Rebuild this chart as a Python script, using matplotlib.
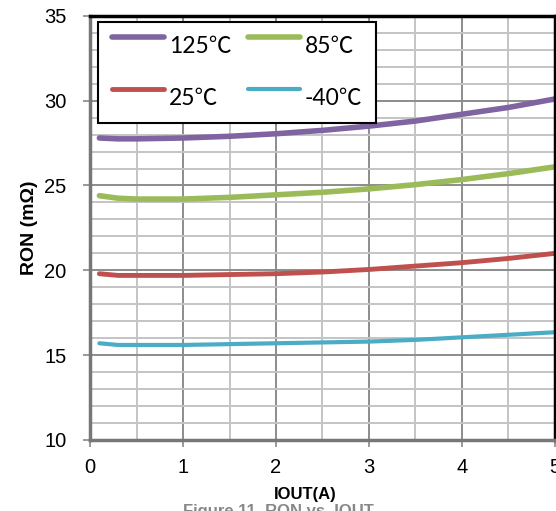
import matplotlib.pyplot as plt
from matplotlib.ticker import MultipleLocator
from matplotlib.legend_handler import HandlerLine2D
from matplotlib.transforms import Affine2D

# output current (A)
iout = [0.1, 0.3, 0.5, 1.0, 1.5, 2.0, 2.5, 3.0, 3.5, 4.0, 4.5, 5.0]

# on-resistance (mOhm) per junction temperature
ron_125 = [27.8, 27.75, 27.75, 27.8, 27.9, 28.05, 28.25, 28.5, 28.8, 29.2, 29.6, 30.1]
ron_85 = [24.4, 24.25, 24.2, 24.2, 24.3, 24.45, 24.6, 24.8, 25.05, 25.35, 25.7, 26.1]
ron_25 = [19.8, 19.7, 19.7, 19.7, 19.75, 19.8, 19.9, 20.05, 20.25, 20.45, 20.7, 21.0]
ron_m40 = [15.7, 15.6, 15.6, 15.6, 15.65, 15.7, 15.75, 15.8, 15.9, 16.05, 16.2, 16.35]

labels = ['125℃', '85℃', '25℃', '-40℃']
colors = ['#8064A2', '#9BBB59', '#C0504D', '#4BACC6']


class RaisedLine(HandlerLine2D):
    """Legend line drawn a few pixels above the label's centre"""
    def create_artists(self, legend, orig_handle, xdescent, ydescent,
                       width, height, fontsize, trans):
        arts = super().create_artists(legend, orig_handle, xdescent, ydescent,
                                      width, height, fontsize, trans)
        for a in arts:
            a.set_transform(Affine2D().translate(0, 6) + trans)
        return arts


fig = plt.figure(figsize=(5.56, 5.11), dpi=100)
ax = fig.add_axes([0.162, 0.139, 0.836, 0.830])

series = [ron_125, ron_85, ron_25, ron_m40]
widths = [4.0, 4.0, 3.5, 3.0]
lines = []
for ys, lab, c, w in zip(series, labels, colors, widths):
    ln, = ax.plot(iout, ys, color=c, lw=w, label=lab, solid_capstyle='round')
    lines.append(ln)

ax.set_xlim(0, 5)
ax.set_ylim(10, 35)
ax.xaxis.set_major_locator(MultipleLocator(1))
ax.xaxis.set_minor_locator(MultipleLocator(0.5))
ax.yaxis.set_major_locator(MultipleLocator(5))
ax.yaxis.set_minor_locator(MultipleLocator(1))
ax.grid(which='major', color='#8c8c8c', lw=1.4)
ax.grid(which='minor', color='#c4c4c4', lw=1.4)
ax.set_axisbelow(True)

ax.tick_params(which='major', direction='out', length=5, width=1.2, color='#888888',
               labelsize=14.5)
ax.tick_params(axis='y', pad=12)
ax.tick_params(axis='x', pad=8)
ax.tick_params(which='minor', length=0)
for lbl in ax.get_xticklabels() + ax.get_yticklabels():
    lbl.set_family('Liberation Sans')

for side in ('left', 'bottom'):
    ax.spines[side].set_color('#777777')
    ax.spines[side].set_linewidth(2.5)
for side in ('top', 'right'):
    ax.spines[side].set_color('black')
    ax.spines[side].set_linewidth(2.5)

ax.set_ylabel('RON (mΩ)', family='Liberation Sans', fontsize=14, fontweight='bold')
ax.yaxis.set_label_coords(-0.113, 0.5)
ax.set_xlabel('IOUT(A)', family='Liberation Sans', fontsize=12, fontweight='bold')
ax.xaxis.set_label_coords(0.462, -0.112)

# two rows: 125/85 on top, 25/-40 below (legend fills column-wise)
order = [0, 2, 1, 3]
leg = ax.legend([lines[i] for i in order], [labels[i] for i in order],
                ncol=2, loc='upper left', bbox_to_anchor=(0.017, 0.985),
                borderaxespad=0, handler_map={plt.Line2D: RaisedLine()},
                prop={'family': ['Lato', 'Noto Sans CJK SC'], 'size': 16.5},
                handlelength=2.3, handletextpad=0.2, columnspacing=0.7,
                labelspacing=1.35, fancybox=False, framealpha=1, borderpad=0.6)
leg.get_frame().set_edgecolor('black')
leg.get_frame().set_linewidth(1.5)

fig.text(0.5, 1 - 504 / 511, 'Figure 11. RON vs. IOUT', ha='center', va='top',
         family='Liberation Sans', fontsize=12, fontweight='bold', color='#888888')

fig.savefig('out.png', dpi=100)
